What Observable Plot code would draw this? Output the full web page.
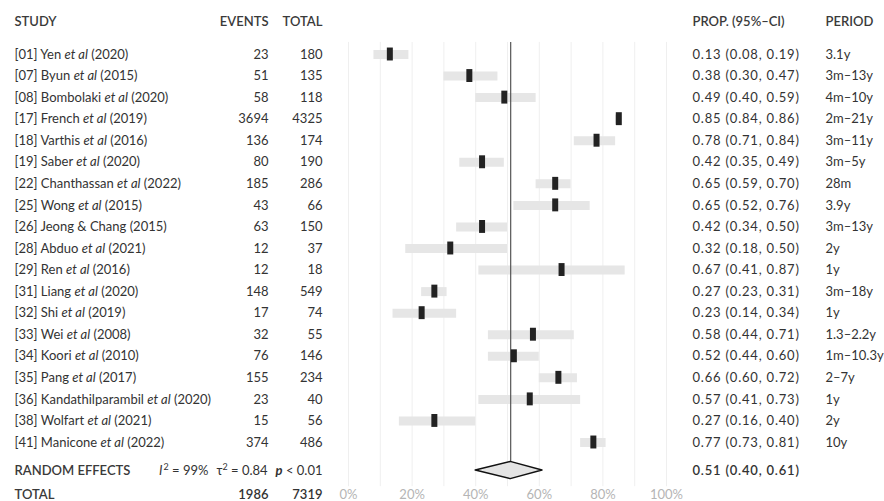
<!DOCTYPE html>
<html><head><meta charset="utf-8">
<script src="https://cdn.jsdelivr.net/npm/d3@7"></script>
<script src="https://cdn.jsdelivr.net/npm/@observablehq/plot@0.6"></script>
<style>
body{margin:0;background:#fff;}
#chart svg{font-family:Lato,"Noto Sans",sans-serif;}
</style></head><body><div id="chart"></div>
<script>
// ---- data ----
const studyNames = ["[01] Yen et al (2020)","[07] Byun et al (2015)","[08] Bombolaki et al (2020)","[17] French et al (2019)","[18] Varthis et al (2016)","[19] Saber et al (2020)","[22] Chanthassan et al (2022)","[25] Wong et al (2015)","[26] Jeong & Chang (2015)","[28] Abduo et al (2021)","[29] Ren et al (2016)","[31] Liang et al (2020)","[32] Shi et al (2019)","[33] Wei et al (2008)","[34] Koori et al (2010)","[35] Pang et al (2017)","[36] Kandathilparambil et al (2020)","[38] Wolfart et al (2021)","[41] Manicone et al (2022)"];
const events = [23,51,58,3694,136,80,185,43,63,12,12,148,17,32,76,155,23,15,374];
const totals = [180,135,118,4325,174,190,286,66,150,37,18,549,74,55,146,234,40,56,486];
const props = [0.13,0.38,0.49,0.85,0.78,0.42,0.65,0.65,0.42,0.32,0.67,0.27,0.23,0.58,0.52,0.66,0.57,0.27,0.77];
const ciLow = [0.08,0.30,0.40,0.84,0.71,0.35,0.59,0.52,0.34,0.18,0.41,0.23,0.14,0.44,0.44,0.60,0.41,0.16,0.73];
const ciHigh = [0.19,0.47,0.59,0.86,0.84,0.49,0.70,0.76,0.50,0.50,0.87,0.31,0.34,0.71,0.60,0.72,0.73,0.40,0.81];
const periods = ["3.1y","3m–13y","4m–10y","2m–21y","3m–11y","3m–5y","28m","3.9y","3m–13y","2y","1y","3m–18y","1y","1.3–2.2y","1m–10.3y","2–7y","1y","2y","10y"];
const pooledEst = 0.51, pooledLow = 0.40, pooledHigh = 0.61;
const statI2 = "99%", statTau2 = "0.84", statP = "0.01";
const totalEvents = 1986, totalN = 7319;
const headers = ["STUDY","EVENTS","TOTAL","PROP. (95%–CI)","PERIOD"];
const axisTicks = [0,0.2,0.4,0.6,0.8,1.0];

// ---- layout ----
const HEADER_ROW = -1.52, RE_ROW = 19.3, TOTAL_ROW = 20.42;
const GRID_TOP = -0.56, GRID_BOTTOM = 20.05, DIAMOND_H = 0.40;
const fmt2 = d3.format(".2f");
const rows = studyNames.map((name,i)=>({i,name,events:String(events[i]),total:String(totals[i]),est:props[i],lo:ciLow[i],hi:ciHigh[i],period:periods[i],
  ci:`${fmt2(props[i])} (${fmt2(ciLow[i])}, ${fmt2(ciHigh[i])})`}));
const gridTicks = d3.range(0, 11).map(k => k/10);
const diamond = [
  {x:pooledLow, y1:RE_ROW, y2:RE_ROW},
  {x:pooledEst, y1:RE_ROW-DIAMOND_H, y2:RE_ROW+DIAMOND_H},
  {x:pooledHigh, y1:RE_ROW, y2:RE_ROW}
];
const txt = {fill:"#333", fontSize:13, frameAnchor:"left"};
const headerCols = [
  {t:headers[0], dx:14, a:"start"},{t:headers[1], dx:268, a:"end"},{t:headers[2], dx:322, a:"end"},
  {t:headers[3], dx:692, a:"start"},{t:headers[4], dx:825, a:"start"}];
const HW = 600;

const chart = Plot.plot({
  width:884, height:501, margin:0,
  style:{background:"white", fontFamily:"Lato, 'Noto Sans', sans-serif", overflow:"visible"},
  x:{domain:[0,1], range:[348,666], axis:null},
  y:{domain:[0,18], range:[54,442], axis:null},
  marks:[
    Plot.ruleX(gridTicks, {x:d=>d, y1:GRID_TOP, y2:GRID_BOTTOM, stroke:"#efefef", strokeWidth:1}),
    Plot.ruleY(rows, {y:"i", x1:"lo", x2:"hi", stroke:"#e6e6e6", strokeWidth:9}),
    Plot.ruleX([pooledEst], {x:d=>d, y1:GRID_TOP, y2:RE_ROW-DIAMOND_H, stroke:"#555", strokeWidth:1.2}),
    Plot.ruleX(rows, {x:"est", y1:d=>d.i-0.3, y2:d=>d.i+0.3, stroke:"#222", strokeWidth:6}),
    Plot.areaY(diamond, {x:"x", y1:"y1", y2:"y2", fill:"#e4e4e4", stroke:"#111", strokeWidth:1.5}),
    // headers
    ...headerCols.map(h => Plot.text([h.t], {...txt, text:d=>d, y:()=>HEADER_ROW, dx:h.dx, textAnchor:h.a, fontWeight:HW, fill:"#3a3a3a"})),
    // study rows
    Plot.text(rows, {...txt, y:"i", text:"name", dx:14, textAnchor:"start", ariaDescription:"study-names"}),
    Plot.text(rows, {...txt, y:"i", text:"events", dx:268, textAnchor:"end"}),
    Plot.text(rows, {...txt, y:"i", text:"total", dx:322, textAnchor:"end"}),
    Plot.text(rows, {...txt, y:"i", text:"ci", dx:692, textAnchor:"start", ariaDescription:"ci-col"}),
    Plot.text(rows, {...txt, y:"i", text:"period", dx:825, textAnchor:"start"}),
    // random effects
    Plot.text(["RANDOM EFFECTS"], {...txt, text:d=>d, y:()=>RE_ROW, dx:14, textAnchor:"start", fontWeight:HW, fill:"#3a3a3a"}),
    Plot.text([`I2 = ${statI2}|τ2 = ${statTau2}|p < ${statP}`], {...txt, text:d=>d, y:()=>RE_ROW, dx:322, textAnchor:"end", ariaDescription:"stats"}),
    Plot.text([`${fmt2(pooledEst)} (${fmt2(pooledLow)}, ${fmt2(pooledHigh)})`], {...txt, text:d=>d, y:()=>RE_ROW, dx:692, textAnchor:"start", fontWeight:HW, ariaDescription:"ci-col"}),
    // total
    Plot.text(["TOTAL"], {...txt, text:d=>d, y:()=>TOTAL_ROW, dx:14, textAnchor:"start", fontWeight:HW, fill:"#3a3a3a"}),
    Plot.text([String(totalEvents)], {...txt, text:d=>d, y:()=>TOTAL_ROW, dx:268, textAnchor:"end", fontWeight:HW}),
    Plot.text([String(totalN)], {...txt, text:d=>d, y:()=>TOTAL_ROW, dx:322, textAnchor:"end", fontWeight:HW}),
    // axis labels
    Plot.text(axisTicks, {x:d=>d, y:()=>TOTAL_ROW, text:d=>d3.format(".0%")(d), fill:"#b5b5b5", fontSize:13})
  ]
});
document.getElementById("chart").appendChild(chart);

// italic "et al"
d3.select(chart).selectAll('g[aria-description="study-names"] text').each(function(){
  const t = this.textContent; const k = t.indexOf("et al");
  if (k < 0) return;
  const el = d3.select(this); el.text(null);
  el.append("tspan").text(t.slice(0,k));
  el.append("tspan").attr("font-style","italic").text("et al");
  el.append("tspan").text(t.slice(k+5));
});
d3.select(chart).selectAll('g[aria-description="ci-col"] text').attr("letter-spacing","0.8px");
// stats with italics and superscripts
d3.select(chart).selectAll('g[aria-description="stats"] text').each(function(){
  const parts = this.textContent.split("|");
  const el = d3.select(this); el.text(null);
  // I²
  el.append("tspan").attr("font-style","italic").text(parts[0][0]);
  el.append("tspan").attr("dy",-5).attr("font-size",9).attr("dx",1).text("2");
  el.append("tspan").attr("dy",5).text(parts[0].slice(2));
  // τ²
  el.append("tspan").attr("dx",8).text(parts[1][0]);
  el.append("tspan").attr("dy",-5).attr("font-size",9).text("2");
  el.append("tspan").attr("dy",5).text(parts[1].slice(2));
  // p
  el.append("tspan").attr("dx",8).attr("font-style","italic").attr("font-weight","bold").text(parts[2][0]);
  el.append("tspan").text(parts[2].slice(1));
});
</script></body></html>
